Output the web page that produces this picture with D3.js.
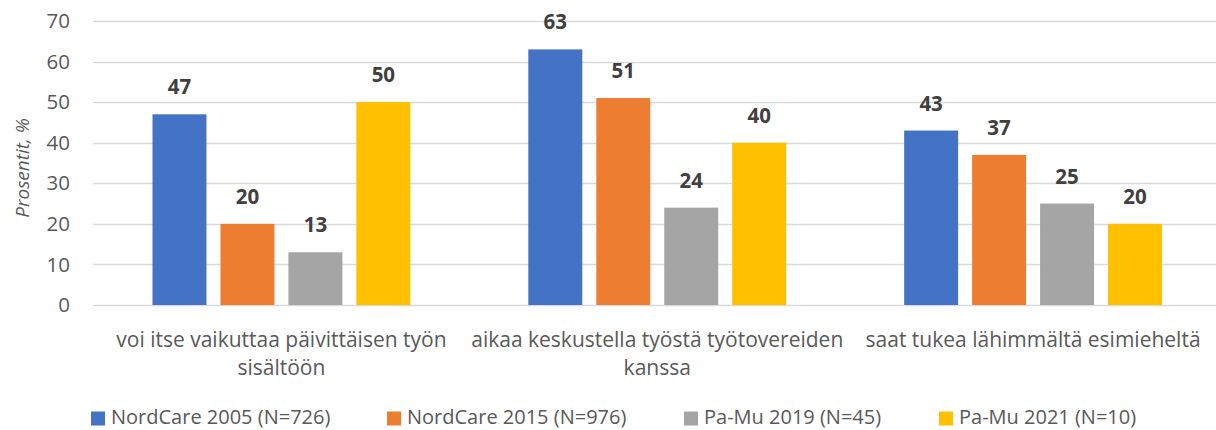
<!DOCTYPE html>
<html>
<head>
<meta charset="utf-8">
<script src="https://cdn.jsdelivr.net/npm/d3@7"></script>
<style>
  html, body { margin: 0; padding: 0; background: #fff; }
  svg { display: block; }
  text { font-family: "Open Sans", "Noto Sans", sans-serif; }
</style>
</head>
<body>
<svg id="chart" width="1216" height="430"></svg>
<script>
const categories = [
  "voi itse vaikuttaa päivittäisen työn\nsisältöön",
  "aikaa keskustella työstä työtovereiden\nkanssa",
  "saat tukea lähimmältä esimieheltä"
];
const seriesNames = [
  "NordCare 2005 (N=726)",
  "NordCare 2015 (N=976)",
  "Pa-Mu 2019 (N=45)",
  "Pa-Mu 2021 (N=10)"
];
const nordCare2005 = [47, 63, 43];
const nordCare2015 = [20, 51, 37];
const paMu2019 = [13, 24, 25];
const paMu2021 = [50, 40, 20];
const yTicks = [0, 10, 20, 30, 40, 50, 60, 70];
const yTitle = "Prosentit, %";

const seriesValues = [nordCare2005, nordCare2015, paMu2019, paMu2021];
const colors = ["#4472C4", "#ED7D31", "#A5A5A5", "#FFC000"];

const svg = d3.select("#chart");
const fontSize = 20.5;

const y = d3.scaleLinear().domain([0, 70]).range([305, 21]);
const x0 = d3.scaleBand().domain(categories).range([93.5, 1221]).paddingInner(0).paddingOuter(0);
const x1 = d3.scaleBand().domain(seriesNames).range([0, x0.bandwidth()]).paddingInner(0.206).paddingOuter(0.868);

// gridlines
svg.append("g").selectAll("line").data(yTicks).join("line")
  .attr("x1", 93.5).attr("x2", 1221)
  .attr("y1", d => Math.round(y(d)) + 0.5).attr("y2", d => Math.round(y(d)) + 0.5)
  .attr("stroke", "#d9d9d9").attr("stroke-width", 1.3);

// y tick labels
svg.append("g").selectAll("text").data(yTicks).join("text")
  .attr("x", 70).attr("y", d => y(d))
  .attr("dy", "0.35em")
  .attr("text-anchor", "end")
  .attr("fill", "#595959")
  .attr("font-size", fontSize)
  .text(d => d);

// y title
svg.append("text")
  .attr("transform", "translate(22,168) rotate(-90)")
  .attr("dy", "0.35em")
  .attr("text-anchor", "middle")
  .attr("fill", "#595959")
  .attr("font-size", 19)
  .attr("font-style", "italic")
  .text(yTitle);

// bars
const groups = svg.append("g").selectAll("g").data(categories).join("g")
  .attr("transform", d => `translate(${x0(d)},0)`);

groups.each(function(cat, ci) {
  const g = d3.select(this);
  seriesNames.forEach((s, si) => {
    const v = seriesValues[si][ci];
    g.append("rect")
      .attr("x", x1(s)).attr("width", x1.bandwidth())
      .attr("y", y(v)).attr("height", y(0) - y(v))
      .attr("fill", colors[si]);
    g.append("text")
      .attr("x", x1(s) + x1.bandwidth() / 2)
      .attr("y", y(v) - 20)
      .attr("text-anchor", "middle")
      .attr("fill", "#404040")
      .attr("font-size", fontSize)
      .attr("font-weight", "bold")
      .text(v);
  });
});

// category labels
svg.append("g").selectAll("text").data(categories).join("text")
  .attr("x", d => x0(d) + x0.bandwidth() / 2)
  .attr("y", 347)
  .attr("text-anchor", "middle")
  .attr("fill", "#595959")
  .attr("font-size", 21)
  .each(function(d) {
    const t = d3.select(this);
    d.split("\n").forEach((line, i) => {
      t.append("tspan")
        .attr("x", x0(d) + x0.bandwidth() / 2)
        .attr("dy", i === 0 ? 0 : 28)
        .text(line);
    });
  });

// legend
const legendX = [91, 387, 684, 939];
const legend = svg.append("g").selectAll("g").data(seriesNames).join("g")
  .attr("transform", (d, i) => `translate(${legendX[i]},418.5)`);
legend.append("rect").attr("x", 0).attr("y", -7).attr("width", 14).attr("height", 14)
  .attr("fill", (d, i) => colors[i]);
legend.append("text").attr("x", 20).attr("y", 5)
  .attr("fill", "#595959").attr("font-size", 20)
  .text(d => d);
</script>
</body>
</html>
